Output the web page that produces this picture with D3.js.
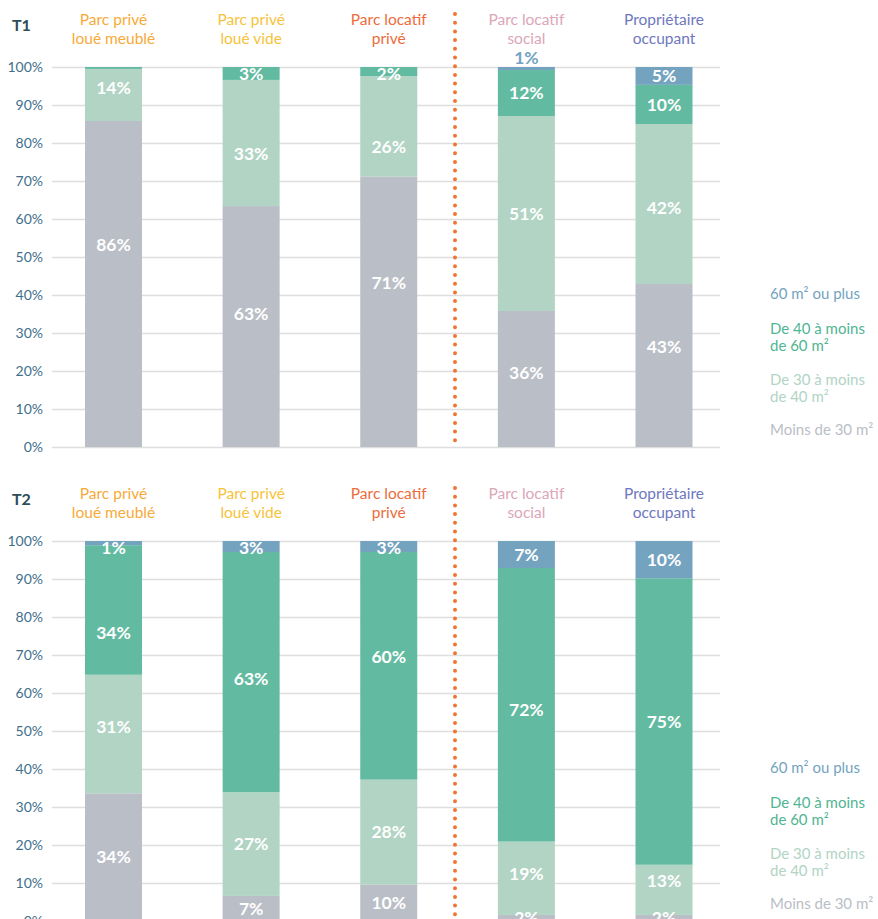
<!DOCTYPE html>
<html>
<head>
<meta charset="utf-8">
<script src="https://cdn.jsdelivr.net/npm/d3@7"></script>
<style>
  body { margin: 0; background: #fff; }
  text { font-family: Lato, "Open Sans", sans-serif; }
</style>
</head>
<body>
<div id="my_dataviz"></div>
<script>
// Dimensions du graphique
var width = 878
var height = 919

// Catégories (parcs de logements)
const categories = ["meuble", "vide", "locatif", "social", "proprio"]
const categoryLines = [
  ["Parc privé", "loué meublé"],
  ["Parc privé", "loué vide"],
  ["Parc locatif", "privé"],
  ["Parc locatif", "social"],
  ["Propriétaire", "occupant"]
]
const categoryColors = ["#f7aa38", "#f6c33a", "#ec6c3b", "#dba7b8", "#6e78c0"]

// Séries (surfaces)
const series = ["moins30", "de30a40", "de40a60", "plus60"]
const seriesColors = ["#babec6", "#b1d4c4", "#62bba1", "#74a3bf"]
const legendLines = [
  ["Moins de 30 m²"],
  ["De 30 à moins", "de 40 m²"],
  ["De 40 à moins", "de 60 m²"],
  ["60 m² ou plus"]
]
const legendTextColors = ["#babec6", "#b1d4c4", "#4fb593", "#74a3bf"]

// Valeurs T1 (en %)
const t1Moins30 = [85.8, 63.4, 71.2, 35.8, 42.9]
const t1De30a40 = [13.7, 33.2, 26.4, 51.3, 42.1]
const t1De40a60 = [0.5, 3.4, 2.4, 12.1, 10.3]
const t1Plus60  = [0, 0, 0, 0.8, 4.7]

// Valeurs T2 (en %)
const t2Moins30 = [33.6, 6.6, 9.6, 1.6, 1.6]
const t2De30a40 = [31.2, 27.3, 27.6, 19.3, 13.2]
const t2De40a60 = [34.1, 63.2, 59.9, 72.0, 75.4]
const t2Plus60  = [1.1, 2.9, 2.9, 7.1, 9.8]

// Graduations de l'axe vertical
const ticks = [0, 10, 20, 30, 40, 50, 60, 70, 80, 90, 100]

// Décalages manuels des étiquettes (px) par rapport au centre du segment
const labelNudge = {
  "T1-meuble-moins30": -39, "T1-vide-moins30": -13, "T1-locatif-moins30": -29,
  "T1-social-moins30": -6, "T1-proprio-moins30": -19,
  "T1-meuble-de30a40": -7, "T1-vide-de30a40": 11, "T1-locatif-de30a40": 21,
  "T1-proprio-de30a40": 4,
  "T2-meuble-de30a40": -7, "T2-meuble-de40a60": 23, "T2-vide-de40a60": 7,
  "T2-locatif-de40a60": -9, "T2-social-de40a60": 5,
  "T2-social-de30a40": -4, "T2-proprio-de30a40": -9
}

const panels = [
  { title: "T1", offset: 0, values: [t1Moins30, t1De30a40, t1De40a60, t1Plus60] },
  { title: "T2", offset: 474, values: [t2Moins30, t2De30a40, t2De40a60, t2Plus60] }
]

const svg = d3.select("#my_dataviz")
  .append("svg")
    .attr("width", width)
    .attr("height", height)

// Echelle horizontale : centre de chaque barre
const x = d3.scalePoint()
  .domain(categories)
  .range([113.5, 664])
const barWidth = 57

const y = d3.scaleLinear()
  .domain([0, 100])
  .range([447, 67])

const color = d3.scaleOrdinal()
  .domain(series)
  .range(seriesColors)

panels.forEach(function(p) {
  const g = svg.append("g").attr("transform", "translate(0," + p.offset + ")")

  // Tableau pour d3.stack
  const rows = categories.map(function(c, i) {
    const r = { cat: c }
    series.forEach(function(s, j) { r[s] = p.values[j][i] })
    return r
  })
  const stacked = d3.stack().keys(series)(rows)

  // Titre du panneau
  g.append("text")
    .attr("x", 12)
    .attr("y", 25)
    .attr("dy", "0.35em")
    .style("font-size", "16px")
    .style("font-weight", "bold")
    .style("fill", "#2c4d5a")
    .text(p.title)

  // Libellés des catégories
  categories.forEach(function(c, i) {
    categoryLines[i].forEach(function(line, k) {
      g.append("text")
        .attr("x", x(c))
        .attr("y", 20 + k * 19)
        .attr("dy", "0.35em")
        .attr("text-anchor", "middle")
        .style("font-size", "15.5px")
        .style("fill", categoryColors[i])
        .text(line)
    })
  })

  // Lignes de grille + axe
  const axis = d3.axisLeft(y)
    .tickValues(ticks)
    .tickSize(-668)
    .tickPadding(9)
    .tickFormat(function(d){ return d + "%" })
  const ax = g.append("g")
    .attr("transform", "translate(52,0)")
    .call(axis)
  ax.select(".domain").remove()
  ax.selectAll(".tick line")
    .attr("transform", "translate(668,0)")
    .attr("x2", -668)
    .attr("stroke", "#dedede")
    .attr("stroke-width", 1.5)
  ax.selectAll(".tick text")
    .attr("x", -9)
    .style("font-family", "Lato, sans-serif")
    .style("font-size", "14px")
    .style("fill", "#3f6f8b")

  // Ligne pointillée de séparation
  g.append("line")
    .attr("x1", 455).attr("x2", 455)
    .attr("y1", 14).attr("y2", 445)
    .attr("stroke", "#f07433")
    .attr("stroke-width", 4)
    .attr("stroke-linecap", "round")
    .attr("stroke-dasharray", "0 8.7")

  // Barres empilées
  const layer = g.selectAll("g.layer")
    .data(stacked)
    .join("g")
      .attr("class", "layer")
      .style("fill", function(d){ return color(d.key) })
  layer.selectAll("rect")
    .data(function(d){ return d })
    .join("rect")
      .attr("x", function(d){ return x(d.data.cat) - barWidth / 2 })
      .attr("y", function(d){ return y(d[1]) })
      .attr("width", barWidth)
      .attr("height", function(d){ return y(d[0]) - y(d[1]) })

  // Etiquettes de valeurs
  stacked.forEach(function(s) {
    s.forEach(function(d) {
      const v = d[1] - d[0]
      if (v < 0.7) return
      const top = y(d[1])
      const bottom = y(d[0])
      let cy = (top + bottom) / 2 + (labelNudge[p.title + "-" + d.data.cat + "-" + s.key] || 0)
      let fill = "#fff"
      if (v < 1) {
        // trop petit : étiquette au-dessus de la barre
        cy = top - 9
        fill = color(s.key)
      } else {
        cy = Math.max(cy, 67 + 7)
      }
      g.append("text")
        .attr("x", x(d.data.cat))
        .attr("y", cy)
        .attr("dy", "0.35em")
        .attr("text-anchor", "middle")
        .style("font-size", "17.5px")
        .style("font-weight", "bold")
        .style("fill", fill)
        .text(Math.round(v) + "%")
    })
  })

  // Légende
  const legendY = [430, 380, 329, 294]
  series.forEach(function(s, i) {
    legendLines[i].forEach(function(line, k) {
      g.append("text")
        .attr("x", 770)
        .attr("y", legendY[i] + k * 17)
        .attr("dy", "0.35em")
        .style("font-size", "15px")
        .style("fill", legendTextColors[i])
        .text(line)
    })
  })
})
</script>
</body>
</html>
